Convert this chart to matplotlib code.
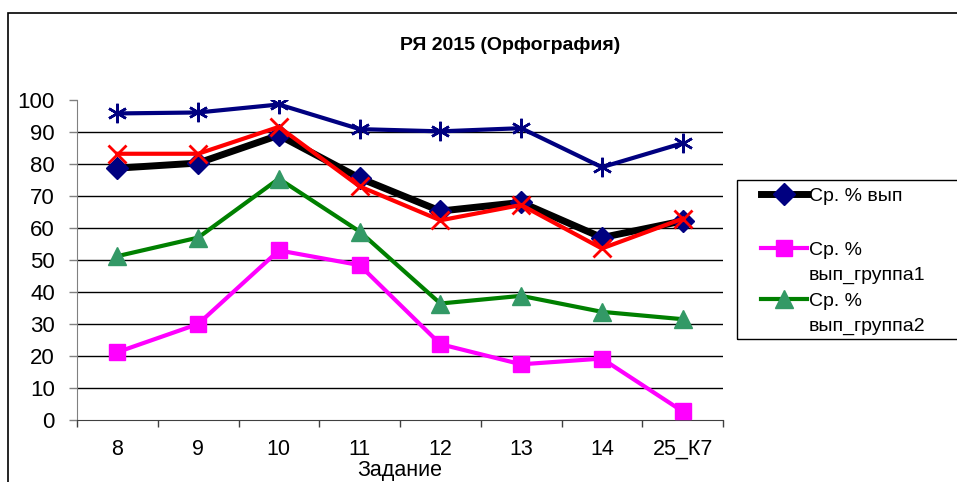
import matplotlib
matplotlib.use("Agg")
import matplotlib.pyplot as plt
from matplotlib.patches import Rectangle

plt.rcParams['font.family'] = ['Liberation Sans', 'DejaVu Sans']

categories = ["8", "9", "10", "11", "12", "13", "14", "25_К7"]
avg_all = [78.7, 80.3, 89.0, 75.6, 65.3, 68.0, 57.0, 62.2]
group1 = [21.2, 30.0, 53.0, 48.4, 23.7, 17.4, 19.2, 2.7]
group2 = [51.2, 57.0, 75.4, 58.9, 36.4, 38.8, 33.8, 31.5]
series_star = [95.8, 96.1, 98.6, 90.9, 90.2, 91.2, 79.0, 86.5]
series_x = [83.2, 83.2, 91.6, 73.0, 62.4, 67.2, 53.6, 62.9]
yticks = [0, 10, 20, 30, 40, 50, 60, 70, 80, 90, 100]
legend_first = ["Ср. % вып", "Ср. %", "Ср. %"]
legend_second = ["", "вып_группа1", "вып_группа2"]

W, H = 957, 482
fig = plt.figure(figsize=(W / 100, H / 100), dpi=100)

# outer chart border
fig.patches.append(Rectangle((8 / W, -0.1), 1.2, 1 - 13 / H + 0.1, transform=fig.transFigure,
                             fill=False, edgecolor='black', linewidth=1.2, clip_on=False))

ax = fig.add_axes([77 / W, 1 - 420 / H, (723 - 77) / W, (420 - 100) / H])
x = list(range(len(categories)))

for yv in yticks[1:-1]:
    ax.axhline(yv, color='black', linewidth=1.0, zorder=1)

l_all, = ax.plot(x, avg_all, color='black', linewidth=5, marker='D', markersize=11,
                 markerfacecolor='#000080', markeredgecolor='#000080', zorder=3)
l_g1, = ax.plot(x, group1, color='#FF00FF', linewidth=3, marker='s', markersize=12,
                markerfacecolor='#FF00FF', markeredgecolor='#FF00FF', zorder=3)
l_g2, = ax.plot(x, group2, color='#008000', linewidth=3, marker='^', markersize=13,
                markerfacecolor='#339966', markeredgecolor='#339966', zorder=3)
ax.plot(x, series_star, color='#000080', linewidth=3, marker=(6, 2, 0), markersize=14,
        markeredgewidth=1.8, markeredgecolor='#000080', zorder=3)
ax.plot(x, series_x, color='#FF0000', linewidth=3, marker='x', markersize=13,
        markeredgewidth=2, markeredgecolor='#FF0000', zorder=4)

ax.set_xlim(-0.5, len(categories) - 0.5)
ax.set_ylim(0, 100)
ax.set_yticks(yticks)
ax.set_xticks(x)
ax.set_xticklabels(categories)
ax.set_xticks([i - 0.5 for i in range(len(categories) + 1)], minor=True)
ax.tick_params(axis='x', which='major', length=0, pad=13.5, labelsize=15.5)
ax.tick_params(axis='x', which='minor', length=5, width=1, color='#404040', direction='out')
ax.tick_params(axis='y', length=6, width=1, color='#808080', pad=10, labelsize=16)

for s in ['top', 'right']:
    ax.spines[s].set_visible(False)
ax.spines['left'].set_color('#808080')
ax.spines['bottom'].set_color('#404040')
ax.set_xlabel("Задание", fontsize=15.5, labelpad=0.3)

fig.text(510 / W, 1 - 45 / H, "РЯ 2015 (Орфография)", fontsize=14, fontweight='bold',
         ha='center', va='center')

# legend box
fig.patches.append(Rectangle((737 / W, 1 - 339 / H), 1.0, (339 - 180) / H, transform=fig.transFigure,
                             fill=False, edgecolor='black', linewidth=1.0, clip_on=False))
row_y = [196, 250, 301]
for handle, first, second, yy in zip([l_all, l_g1, l_g2], legend_first, legend_second, row_y):
    lg = fig.legend([handle], [first], loc='center left', bbox_to_anchor=(761 / W, 1 - yy / H),
                    frameon=False, fontsize=14, handlelength=2.35, handletextpad=0.1,
                    borderaxespad=0, borderpad=0)
    if second:
        fig.text(809 / W, 1 - (yy + 25) / H, second, fontsize=14, ha='left', va='center')

fig.savefig("out.png", dpi=100)
